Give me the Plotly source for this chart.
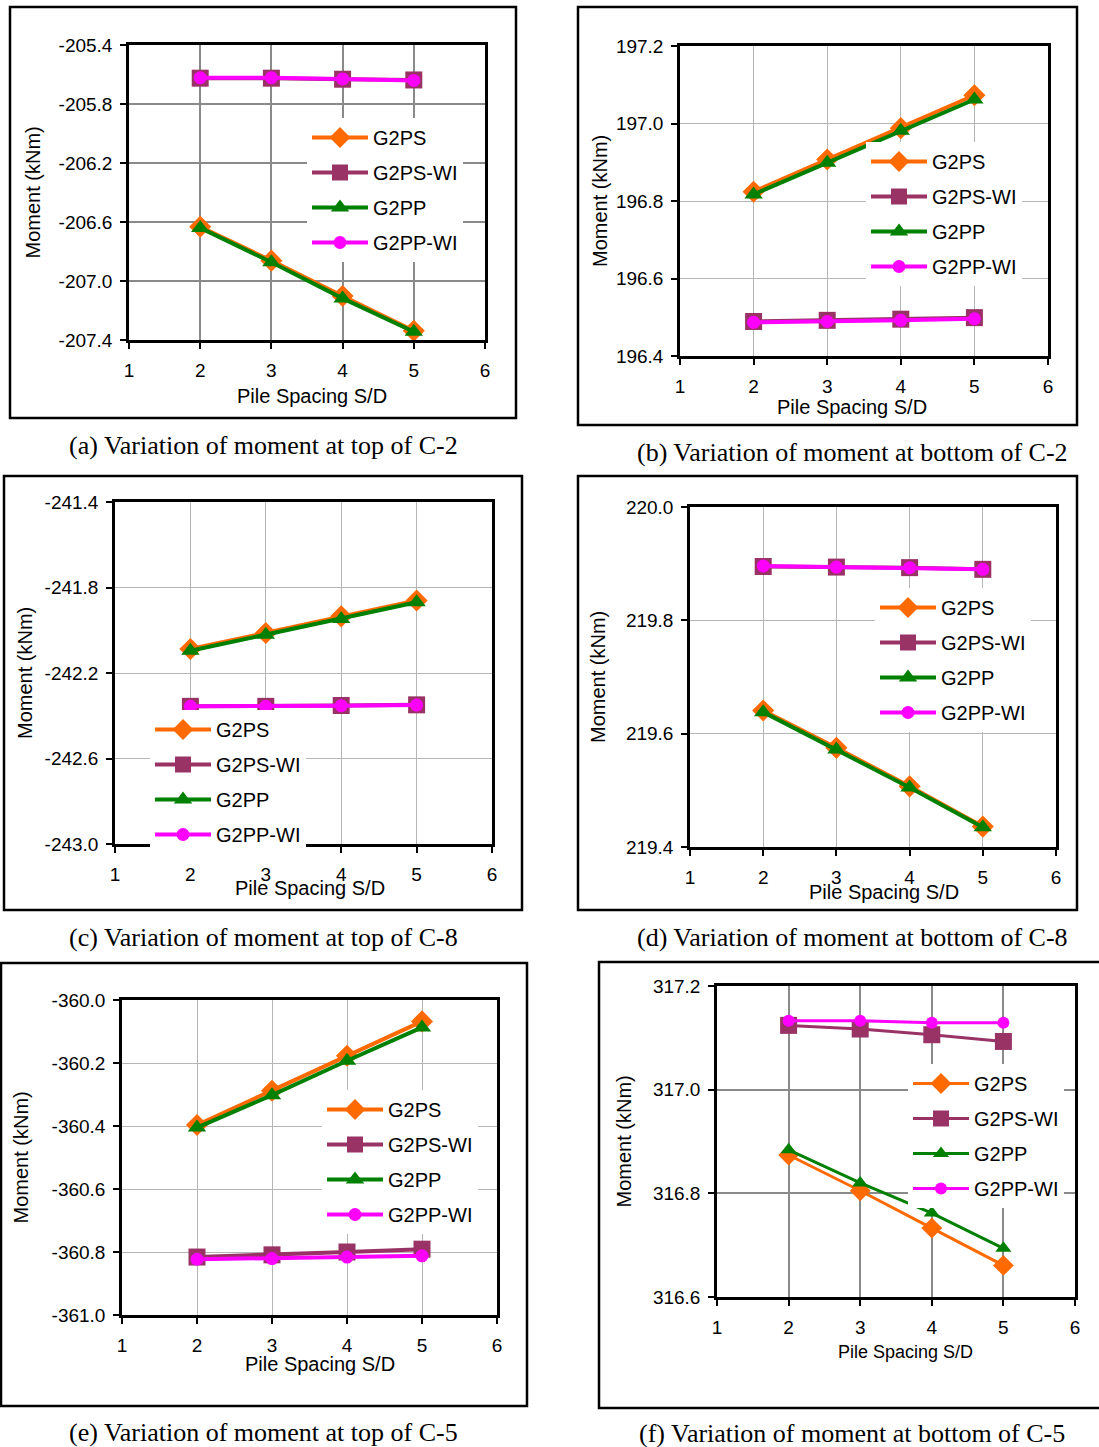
import plotly.graph_objects as go

W, H = 1099, 1447

spacing = [2, 3, 4, 5]
series_names = ["G2PS", "G2PS-WI", "G2PP", "G2PP-WI"]

# (a) top of C-2
a_g2ps = [-206.632, -206.862, -207.102, -207.337]
a_g2ps_wi = [-205.625, -205.625, -205.632, -205.637]
a_g2pp = [-206.640, -206.873, -207.118, -207.344]
a_g2pp_wi = [-205.622, -205.622, -205.630, -205.640]

# (b) bottom of C-2
b_g2ps = [196.824, 196.907, 196.988, 197.073]
b_g2ps_wi = [196.489, 196.492, 196.495, 196.499]
b_g2pp = [196.817, 196.899, 196.981, 197.062]
b_g2pp_wi = [196.487, 196.489, 196.492, 196.496]

# (c) top of C-8
c_g2ps = [-242.088, -242.013, -241.935, -241.861]
c_g2ps_wi = [-242.356, -242.356, -242.352, -242.349]
c_g2pp = [-242.096, -242.021, -241.947, -241.869]
c_g2pp_wi = [-242.356, -242.356, -242.353, -242.350]

# (d) bottom of C-8
d_g2ps = [219.641, 219.575, 219.507, 219.436]
d_g2ps_wi = [219.895, 219.894, 219.893, 219.890]
d_g2pp = [219.638, 219.572, 219.505, 219.435]
d_g2pp_wi = [219.896, 219.894, 219.893, 219.890]

# (e) top of C-5
e_g2ps = [-360.397, -360.288, -360.177, -360.068]
e_g2ps_wi = [-360.816, -360.809, -360.800, -360.791]
e_g2pp = [-360.405, -360.302, -360.193, -360.087]
e_g2pp_wi = [-360.823, -360.821, -360.816, -360.812]

# (f) bottom of C-5
f_g2ps = [316.874, 316.805, 316.733, 316.661]
f_g2ps_wi = [317.124, 317.117, 317.106, 317.093]
f_g2pp = [316.884, 316.820, 316.762, 316.694]
f_g2pp_wi = [317.133, 317.133, 317.129, 317.129]

captions = [
    "(a) Variation of moment at top of C-2",
    "(b) Variation of moment at bottom of C-2",
    "(c) Variation of moment at top of C-8",
    "(d) Variation of moment at bottom of C-8",
    "(e) Variation of moment at top of C-5",
    "(f) Variation of moment at bottom of C-5",
]
y_ranges = [(-207.4, -205.4), (196.4, 197.2), (-243.0, -241.4),
            (219.4, 220.0), (-361.0, -360.0), (316.6, 317.2)]
y_dticks = [0.4, 0.2, 0.4, 0.2, 0.2, 0.2]
x_ticks = [1, 2, 3, 4, 5, 6]
x_title = "Pile Spacing S/D"
y_title = "Moment (kNm)"

panel_data = [
    (a_g2ps, a_g2ps_wi, a_g2pp, a_g2pp_wi),
    (b_g2ps, b_g2ps_wi, b_g2pp, b_g2pp_wi),
    (c_g2ps, c_g2ps_wi, c_g2pp, c_g2pp_wi),
    (d_g2ps, d_g2ps_wi, d_g2pp, d_g2pp_wi),
    (e_g2ps, e_g2ps_wi, e_g2pp, e_g2pp_wi),
    (f_g2ps, f_g2ps_wi, f_g2pp, f_g2pp_wi),
]

# ---------------- layout geometry (pixels) ----------------
plot_px = [
    (129, 485, 45, 340),
    (680, 1048, 46, 356),
    (115, 492, 502, 844),
    (690, 1056, 507, 847),
    (122, 497, 1000, 1315),
    (717, 1075, 986, 1297),
]
box_px = [
    (10, 516, 7, 418),
    (578, 1077, 7, 425),
    (4, 522, 476, 910),
    (578, 1077, 476, 910),
    (1, 527, 963, 1406),
    (599, 1102, 962, 1408),
]
caption_px = [(263, 445), (852, 452), (263, 937), (852, 937), (263, 1432), (852, 1433)]
ytitle_px = [33, 600, 25, 598, 20, 623]
xtitle_px = [(312, 396), (852, 407), (310, 888), (884, 892), (320, 1364), (905, 1352)]
legend_px = [(307, 118), (866, 142), (150, 710), (875, 588), (322, 1090), (908, 1064)]

colors = ["#FF6A00", "#993366", "#008000", "#FF00FF"]
symbols = ["diamond", "square", "triangle-up", "circle"]
sizes = [17, 17, 16, 13]
sizes_f = [16, 17, 14, 12]

def px_x(x):
    return x / W

def px_y(y):
    return 1 - y / H

def ylabels(lo, hi, step):
    vals = []
    n = int(round((hi - lo) / step))
    for j in range(n + 1):
        vals.append(round(lo + j * step, 4))
    return vals, [f"{v:.1f}" for v in vals]

fig = go.Figure()
shapes = []
annotations = []

heavy_grid = {0, 5}

for i in range(6):
    ax = "" if i == 0 else str(i + 1)
    xref = "x" + ax
    yref = "y" + ax
    leg = "legend" if i == 0 else "legend" + str(i + 1)
    l, r, t, b = plot_px[i]
    lw = 3 if i == 5 else 4
    for k in range(4):
        fig.add_trace(go.Scatter(
            x=spacing, y=panel_data[i][k], name=series_names[k],
            mode="lines+markers", xaxis=xref, yaxis=yref, legend=leg,
            legendgroup=f"p{i}s{k}",
            line=dict(color=colors[k], width=lw),
            marker=dict(symbol=symbols[k], color=colors[k],
                        size=(sizes_f if i == 5 else sizes)[k]),
            cliponaxis=False,
        ))
    gridc = "#8a8a8a" if i in heavy_grid else "#b5b5b5"
    gridw = 2 if i in heavy_grid else 1
    common = dict(showline=True, linecolor="black", linewidth=2.5, mirror=True,
                  ticks="outside", ticklen=6, tickwidth=2, tickcolor="black",
                  showgrid=True, gridcolor=gridc, gridwidth=gridw,
                  zeroline=False, fixedrange=True, automargin=False,
                  tickfont=dict(family="Liberation Sans, Arial", size=19, color="black"))
    fig.layout["xaxis" + ax] = dict(
        domain=[px_x(l), px_x(r)], range=[1, 6], tickvals=x_ticks,
        ticktext=[str(v) for v in x_ticks],
        anchor=yref, ticklabelstandoff=5, **common)
    y0, y1 = y_ranges[i]
    tv, tt = ylabels(y0, y1, y_dticks[i])
    fig.layout["yaxis" + ax] = dict(
        domain=[px_y(b), px_y(t)], range=[y0, y1], tickvals=tv, ticktext=tt,
        anchor=xref, ticklabelstandoff=4, **common)
    lx, ly = legend_px[i]
    fig.layout[leg] = dict(
        x=px_x(lx), y=px_y(ly), xanchor="left", yanchor="top",
        xref="paper", yref="paper",
        bgcolor="white", borderwidth=0, itemwidth=56,
        tracegroupgap=6, traceorder="grouped",
        font=dict(family="Liberation Sans, Arial", size=20, color="black"),
    )
    bl, br, bt, bb = box_px[i]
    shapes.append(dict(type="rect", xref="paper", yref="paper",
                       x0=px_x(bl), x1=px_x(br), y0=px_y(bb), y1=px_y(bt),
                       line=dict(color="black", width=2.5), fillcolor="rgba(0,0,0,0)"))
    cx, cy = caption_px[i]
    annotations.append(dict(text=captions[i], x=px_x(cx), y=px_y(cy), xref="paper", yref="paper",
                            showarrow=False, xanchor="center", yanchor="middle",
                            font=dict(family="Liberation Serif, Times New Roman", size=26, color="black")))
    annotations.append(dict(text=y_title, x=px_x(ytitle_px[i]), y=px_y((t + b) / 2),
                            xref="paper", yref="paper", showarrow=False, textangle=-90,
                            xanchor="center", yanchor="middle",
                            font=dict(family="Liberation Sans, Arial", size=20, color="black")))
    tx, ty = xtitle_px[i]
    annotations.append(dict(text=x_title, x=px_x(tx), y=px_y(ty), xref="paper", yref="paper",
                            showarrow=False, xanchor="center", yanchor="middle",
                            font=dict(family="Liberation Sans, Arial",
                                      size=18 if i == 5 else 20, color="black")))

fig.update_layout(
    template="none",
    width=W, height=H, margin=dict(l=0, r=0, t=0, b=0, pad=0, autoexpand=False),
    paper_bgcolor="white", plot_bgcolor="white",
    shapes=shapes, annotations=annotations, showlegend=True,
)

fig.write_html(
    "out.html",
    config={"displayModeBar": False},
    post_script="document.body.style.margin='0';document.body.style.padding='0';"
                "document.body.style.overflow='hidden';",
)
